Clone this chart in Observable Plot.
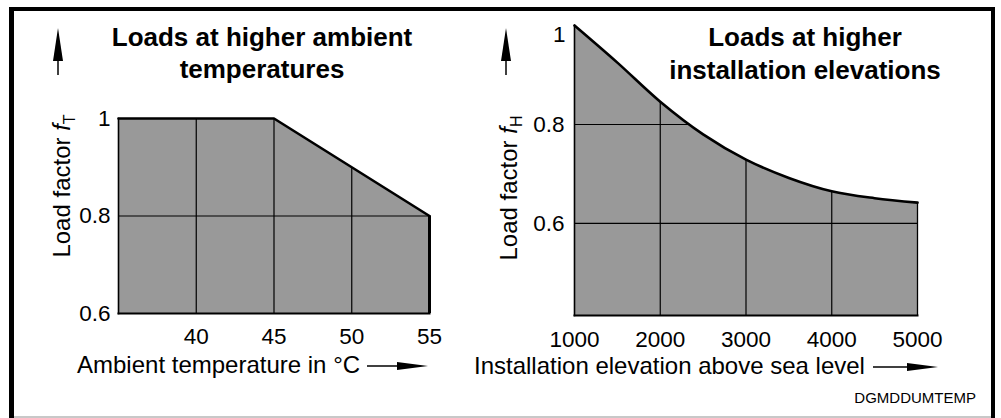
<!DOCTYPE html>
<html>
<head>
<meta charset="utf-8">
<script src="https://cdn.jsdelivr.net/npm/d3@7"></script>
<script src="https://cdn.jsdelivr.net/npm/@observablehq/plot@0.6"></script>
<style>
  html, body { margin: 0; padding: 0; background: #fff; }
  body { width: 1001px; height: 418px; position: relative; overflow: hidden;
         font-family: "Liberation Sans", Arial, Helvetica, sans-serif; color: #000; }
  .chart { position: absolute; top: 0; }
  .title { position: absolute; font-weight: bold; font-size: 26px; line-height: 32px; text-align: center; white-space: nowrap; }
  .xlabel { position: absolute; font-size: 24px; line-height: 28px; white-space: nowrap; }
  #overlay { position: absolute; left: 0; top: 0; }
</style>
</head>
<body>
<div id="left" class="chart" style="left:0px"></div>
<div id="right" class="chart" style="left:480px"></div>
<div class="title" style="left:62px; width:400px; top:21px;">Loads at higher ambient<br>temperatures</div>
<div class="title" style="left:605px; width:400px; top:21px; line-height:33px;">Loads at higher<br>installation elevations</div>
<div class="xlabel" style="left:77px; top:351px;">Ambient temperature in °C</div>
<div class="xlabel" style="left:474px; top:352px;">Installation elevation above sea level</div>
<svg id="overlay" width="1001" height="418"></svg>
<script>
// ---- data ----
const tempC = [35, 45, 50, 55];
const factorT = [1, 1, 0.9, 0.8];
const tempTicks = [40, 45, 50, 55];
const tempYTicks = [0.6, 0.8, 1];
const tempGridX = [40, 45, 50];
const tempGridY = [0.8];
const tempDomainX = [35, 55];
const tempDomainY = [0.6, 1];

const elevation = [1000, 1500, 2000, 2500, 3000, 3500, 4000, 4500, 5000];
const factorH = [1, 0.925, 0.846, 0.780, 0.729, 0.692, 0.665, 0.651, 0.642];
const elevTicks = [1000, 2000, 3000, 4000, 5000];
const elevYTicks = [0.6, 0.8];
const elevYTop = [1];
const elevGridX = [2000, 3000, 4000];
const elevGridY = [0.6, 0.8];
const elevDomainX = [1000, 5000];
const elevDomainY = [0.414, 1];

const FILL = "#999999";
const FONT = "'Liberation Sans', Arial, Helvetica, sans-serif";
const fmt = d => String(d);

const T = tempC.map((x, i) => ({x, y: factorT[i]}));
const H = elevation.map((x, i) => ({x, y: factorH[i]}));

const style = {fontFamily: FONT, fontSize: "22.5px", color: "#000", background: "transparent", overflow: "visible"};

const left = Plot.plot({
  width: 480, height: 418,
  marginLeft: 118, marginRight: 51, marginTop: 118, marginBottom: 105,
  x: {domain: tempDomainX, label: null},
  y: {domain: tempDomainY, label: null},
  style,
  marks: [
    Plot.areaY(T, {x: "x", y1: tempDomainY[0], y2: "y", fill: FILL}),
    Plot.ruleX(tempGridX, {stroke: "#000", strokeWidth: 1.2}),
    Plot.ruleY(tempGridY, {stroke: "#000", strokeWidth: 1.2}),
    Plot.areaY(T, {x: "x", y1: "y", y2: tempDomainY[1], fill: "#fff"}),
    Plot.frame({anchor: "left", stroke: "#000", strokeWidth: 1.6}),
    Plot.frame({anchor: "bottom", stroke: "#000", strokeWidth: 2}),
    Plot.line(T, {x: "x", y: "y", stroke: "#000", strokeWidth: 2.6, strokeLinejoin: "miter"}),
    Plot.ruleX([tempC[tempC.length - 1]], {y1: tempDomainY[0], y2: factorT[factorT.length - 1], stroke: "#000", strokeWidth: 3}),
    Plot.axisX(tempTicks, {tickSize: 0, tickPadding: 15, tickFormat: fmt, fontSize: 22.5, label: null}),
    Plot.axisY(tempYTicks, {tickSize: 0, tickPadding: 8, tickFormat: fmt, fontSize: 22.5, label: null})
  ]
});
document.getElementById("left").append(left);

const right = Plot.plot({
  width: 521, height: 418,
  marginLeft: 94, marginRight: 84, marginTop: 25, marginBottom: 103,
  x: {domain: elevDomainX, label: null},
  y: {domain: elevDomainY, label: null},
  style,
  marks: [
    Plot.areaY(H, {x: "x", y1: elevDomainY[0], y2: "y", fill: FILL, curve: "catmull-rom"}),
    Plot.ruleX(elevGridX, {stroke: "#000", strokeWidth: 1.2}),
    Plot.ruleY(elevGridY, {stroke: "#000", strokeWidth: 1.2}),
    Plot.areaY(H, {x: "x", y1: "y", y2: elevDomainY[1], fill: "#fff", curve: "catmull-rom"}),
    Plot.frame({anchor: "left", stroke: "#000", strokeWidth: 1.6}),
    Plot.frame({anchor: "bottom", stroke: "#000", strokeWidth: 2}),
    Plot.ruleX([elevation[elevation.length - 1]], {y1: elevDomainY[0], y2: factorH[factorH.length - 1], stroke: "#000", strokeWidth: 1.3}),
    Plot.line(H, {x: "x", y: "y", stroke: "#000", strokeWidth: 2.6, curve: "catmull-rom"}),
    Plot.axisX(elevTicks, {tickSize: 0, tickPadding: 16, tickFormat: fmt, fontSize: 22.5, label: null}),
    Plot.axisY(elevYTicks, {tickSize: 0, tickPadding: 10, tickFormat: fmt, fontSize: 22.5, label: null}),
    Plot.axisY(elevYTop, {tickSize: 0, tickPadding: 9, tickFormat: fmt, fontSize: 22.5, dy: 9, label: null})
  ]
});
document.getElementById("right").append(right);

// ---- decorations: frame, arrows, rotated y labels, drawing code ----
const ov = d3.select("#overlay");
// outer frame (thick black on left/top/right, thin grey at bottom)
ov.append("rect").attr("x", 9).attr("y", 7).attr("width", 5).attr("height", 411).attr("fill", "#000");
ov.append("rect").attr("x", 9).attr("y", 7).attr("width", 986).attr("height", 4).attr("fill", "#000");
ov.append("rect").attr("x", 991).attr("y", 7).attr("width", 4).attr("height", 411).attr("fill", "#000");
ov.append("rect").attr("x", 14).attr("y", 416).attr("width", 977).attr("height", 2).attr("fill", "#c8c8c8");

function upArrow(x) {
  ov.append("line").attr("x1", x).attr("x2", x).attr("y1", 58).attr("y2", 75).attr("stroke", "#000").attr("stroke-width", 1.5);
  ov.append("path").attr("d", `M${x},28 L${x + 5},61 L${x - 5},61 Z`).attr("fill", "#000");
}
function rightArrow(x0, x1, y) {
  ov.append("line").attr("x1", x0).attr("x2", x1 - 28).attr("y1", y).attr("y2", y).attr("stroke", "#000").attr("stroke-width", 1.5);
  ov.append("path").attr("d", `M${x1},${y} L${x1 - 31},${y - 4} L${x1 - 31},${y + 4} Z`).attr("fill", "#000");
}
upArrow(58);
upArrow(506);
rightArrow(367, 428, 366);
rightArrow(873, 938, 367);

function yLabel(x, y, sub) {
  const t = ov.append("text")
    .attr("transform", `translate(${x},${y}) rotate(-90)`)
    .attr("text-anchor", "middle")
    .attr("font-family", FONT)
    .attr("font-size", 24)
    .attr("fill", "#000");
  t.append("tspan").text("Load factor ");
  t.append("tspan").attr("font-style", "italic").text("f");
  t.append("tspan").attr("font-size", 16).attr("dy", 5).text(sub);
}
yLabel(70, 186, "T");
yLabel(517, 188, "H");

ov.append("text").attr("x", 976).attr("y", 403).attr("text-anchor", "end")
  .attr("font-family", FONT).attr("font-size", 15).attr("fill", "#000").text("DGMDDUMTEMP");
</script>
</body>
</html>
